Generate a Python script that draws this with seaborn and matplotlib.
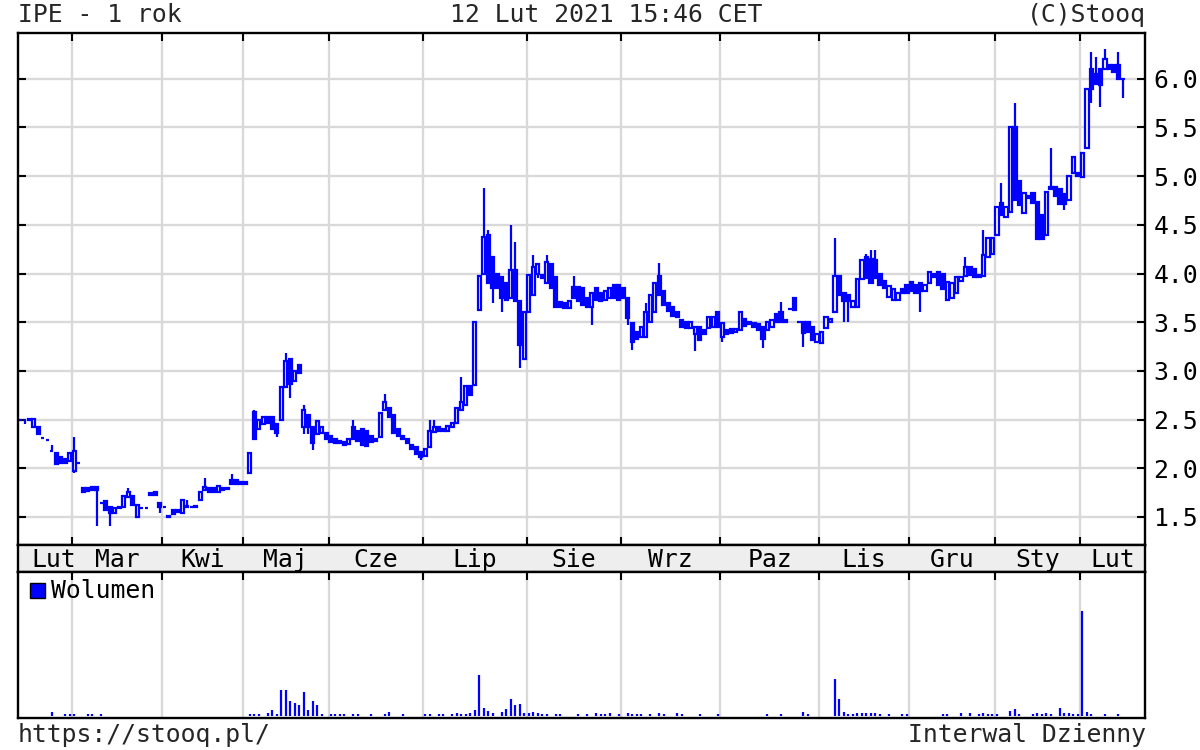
import numpy as np
import pandas as pd
import seaborn as sns
import matplotlib.pyplot as plt
from matplotlib.patches import Rectangle

# Daily candles, index 0 = 12 Feb 2020 ... 245 = 12 Feb 2021
opens = [2.50, 2.50, 2.51, 2.42, 2.42, 2.31, 2.29, 2.18, 2.16, 2.12,
         2.10, 2.07, 1.97, 2.05, 1.80, 1.80, 1.81, 1.81, 1.64, 1.66,
         1.60, 1.54, 1.59, 1.60, 1.70, 1.72, 1.50, 1.59, 1.59, 1.73,
         1.76, 1.64, 1.60, 1.50, 1.57, 1.55, 1.54, 1.60, 1.60, 1.61,
         1.67, 1.78, 1.80, 1.80, 1.76, 1.80, 1.79, 1.88, 1.88, 1.86,
         1.84, 1.95, 2.58, 2.40, 2.45, 2.53, 2.53, 2.45, 2.50, 2.83,
         3.12, 2.90, 3.06, 2.42, 2.55, 2.42, 2.35, 2.36, 2.36, 2.33,
         2.30, 2.28, 2.27, 2.25, 2.42, 2.38, 2.40, 2.38, 2.33, 2.28,
         2.32, 2.60, 2.62, 2.55, 2.40, 2.33, 2.30, 2.24, 2.22, 2.17,
         2.13, 2.22, 2.37, 2.42, 2.40, 2.38, 2.42, 2.46, 2.60, 2.65,
         2.84, 2.85, 3.63, 4.00, 4.40, 4.17, 4.00, 3.96, 3.90, 3.75,
         4.04, 3.72, 3.12, 3.60, 3.78, 4.00, 3.98, 3.90, 4.10, 3.96,
         3.71, 3.70, 3.65, 3.86, 3.86, 3.85, 3.75, 3.66, 3.85, 3.80,
         3.73, 3.75, 3.88, 3.88, 3.85, 3.75, 3.49, 3.40, 3.35, 3.35,
         3.50, 3.60, 3.97, 3.82, 3.70, 3.66, 3.60, 3.52, 3.50, 3.44,
         3.38, 3.45, 3.42, 3.44, 3.45, 3.60, 3.35, 3.42, 3.43, 3.40,
         3.42, 3.53, 3.50, 3.49, 3.48, 3.45, 3.42, 3.45, 3.58, 3.60,
         3.52, 3.64, 3.75, 3.50, 3.50, 3.50, 3.45, 3.30, 3.29, 3.44,
         3.50, 3.60, 3.97, 3.80, 3.78, 3.66, 3.66, 3.94, 4.17, 4.15,
         4.14, 4.00, 3.92, 3.76, 3.73, 3.73, 3.84, 3.88, 3.91, 3.88,
         3.90, 3.82, 3.90, 4.00, 4.02, 4.00, 3.73, 3.75, 3.80, 3.92,
         3.97, 4.07, 4.05, 3.98, 3.97, 4.17, 4.20, 4.40, 4.72, 4.58,
         4.63, 5.50, 4.95, 4.62, 4.80, 4.83, 4.73, 4.60, 4.40, 4.89,
         4.89, 4.87, 4.82, 4.75, 5.03, 5.03, 4.99, 5.29, 6.10, 6.05,
         6.10, 6.10, 6.14, 6.14, 6.14, 6.00]
closes = [2.50, 2.50, 2.50, 2.51, 2.35, 2.31, 2.29, 2.18, 2.04, 2.05,
          2.05, 2.16, 2.18, 2.05, 1.76, 1.77, 1.78, 1.78, 1.64, 1.57,
          1.54, 1.59, 1.60, 1.72, 1.76, 1.62, 1.62, 1.59, 1.59, 1.75,
          1.73, 1.60, 1.60, 1.51, 1.53, 1.57, 1.67, 1.61, 1.60, 1.60,
          1.76, 1.81, 1.76, 1.76, 1.82, 1.78, 1.80, 1.84, 1.84, 1.84,
          1.86, 2.16, 2.30, 2.50, 2.53, 2.47, 2.40, 2.36, 2.83, 3.10,
          2.87, 3.00, 2.98, 2.60, 2.42, 2.26, 2.49, 2.42, 2.30, 2.27,
          2.26, 2.26, 2.24, 2.30, 2.30, 2.28, 2.24, 2.23, 2.27, 2.30,
          2.57, 2.68, 2.53, 2.36, 2.33, 2.30, 2.26, 2.20, 2.15, 2.12,
          2.20, 2.38, 2.42, 2.38, 2.38, 2.43, 2.46, 2.62, 2.68, 2.84,
          2.75, 3.50, 3.97, 4.37, 3.90, 3.85, 3.85, 3.75, 3.73, 4.04,
          3.72, 3.27, 3.60, 3.98, 4.07, 4.10, 3.95, 4.12, 3.85, 3.66,
          3.66, 3.65, 3.72, 3.75, 3.72, 3.68, 3.66, 3.80, 3.73, 3.72,
          3.82, 3.85, 3.75, 3.73, 3.75, 3.54, 3.30, 3.33, 3.45, 3.60,
          3.78, 3.90, 3.78, 3.68, 3.62, 3.56, 3.55, 3.45, 3.44, 3.50,
          3.45, 3.32, 3.38, 3.55, 3.55, 3.45, 3.49, 3.38, 3.39, 3.43,
          3.60, 3.46, 3.48, 3.45, 3.42, 3.33, 3.50, 3.52, 3.50, 3.50,
          3.50, 3.64, 3.63, 3.50, 3.39, 3.40, 3.32, 3.38, 3.40, 3.55,
          3.53, 3.97, 3.78, 3.72, 3.72, 3.72, 3.94, 4.14, 3.95, 3.90,
          3.95, 3.88, 3.85, 3.87, 3.84, 3.80, 3.80, 3.80, 3.82, 3.80,
          3.82, 3.88, 4.02, 3.96, 3.88, 3.84, 3.91, 3.90, 3.96, 3.96,
          4.07, 3.98, 3.96, 3.96, 4.19, 4.36, 4.36, 4.68, 4.60, 4.68,
          5.50, 4.76, 4.70, 4.83, 4.78, 4.72, 4.35, 4.35, 4.84, 4.87,
          4.80, 4.71, 4.71, 5.00, 5.20, 5.00, 5.24, 5.90, 5.90, 5.95,
          5.94, 6.20, 6.10, 6.07, 6.00, 6.00]

# shadows reaching beyond the body
high_day = [7, 12, 24, 37, 41, 47, 52, 59, 63, 74, 81, 91, 92, 98, 103, 104, 109,
            110, 114, 117, 123, 139, 142, 169, 181, 188, 189, 190, 210, 214, 218,
            221, 229, 238, 239, 241, 244]
high_val = [2.24, 2.32, 1.80, 1.67, 1.90, 1.94, 2.60, 3.18, 2.65, 2.50, 2.76, 2.50,
            2.50, 2.94, 4.88, 4.45, 4.50, 4.32, 4.19, 4.19, 3.97, 3.70, 4.11, 3.71,
            4.36, 4.20, 4.24, 4.24, 4.17, 4.45, 4.93, 5.75, 5.29, 6.27, 6.22, 6.31,
            6.27]
low_day = [1, 12, 17, 20, 31, 57, 60, 63, 64, 65, 89, 105, 107, 111, 115, 127,
           135, 136, 150, 156, 165, 174, 183, 184, 200, 232, 238, 240, 245]
low_val = [2.45, 1.95, 1.41, 1.41, 1.54, 2.32, 2.72, 2.35, 2.35, 2.19, 2.09, 3.70,
           3.60, 3.03, 3.95, 3.47, 3.47, 3.21, 3.20, 3.30, 3.24, 3.25, 3.50, 3.50,
           3.60, 4.65, 5.75, 5.71, 5.80]

# volume (relative units)
vol_day = [7, 10, 11, 12, 15, 16, 18, 51, 52, 53, 55, 56, 57, 58, 59, 60, 61, 62,
           63, 64, 65, 66, 67, 69, 70, 71, 72, 74, 75, 78, 81, 82, 85, 90, 91, 93,
           94, 96, 97, 98, 99, 100, 101, 102, 103, 104, 105, 107, 108, 109, 110,
           111, 112, 113, 114, 115, 116, 117, 119, 120, 124, 126, 128, 129, 130,
           131, 133, 135, 136, 137, 138, 140, 142, 143, 146, 147, 151, 155, 166,
           169, 174, 175, 181, 182, 183, 184, 185, 186, 187, 188, 189, 190, 191,
           193, 196, 197, 205, 206, 209, 211, 213, 214, 215, 216, 217, 220, 221,
           222, 225, 226, 227, 228, 229, 231, 232, 233, 234, 235, 236, 237, 238,
           241, 244]
vol_val = [4, 2, 2, 2, 2, 2, 2, 2, 2, 2, 3, 6, 2, 26, 26, 15, 13, 11,
           24, 6, 15, 11, 2, 2, 2, 2, 2, 2, 2, 2, 2, 4, 2, 2, 2, 2,
           2, 2, 3, 2, 2, 3, 6, 41, 8, 5, 3, 4, 7, 17, 11,
           12, 3, 3, 4, 3, 2, 2, 2, 2, 2, 2, 3, 2, 2,
           3, 2, 3, 2, 2, 2, 2, 3, 2, 3, 2, 2, 2, 2,
           2, 4, 2, 37, 17, 4, 2, 2, 3, 3, 3, 3, 3, 2,
           2, 2, 2, 2, 2, 3, 3, 2, 3, 2, 2, 2, 5, 7,
           2, 2, 3, 2, 3, 2, 8, 3, 3, 2, 2, 105, 4, 2,
           2, 2]

month_starts = [12, 32, 50, 69, 90, 113, 134, 156, 178, 198, 217, 236]
month_names = ['Lut', 'Mar', 'Kwi', 'Maj', 'Cze', 'Lip', 'Sie', 'Wrz', 'Paz',
               'Lis', 'Gru', 'Sty', 'Lut']
price_ticks = [1.5, 2.0, 2.5, 3.0, 3.5, 4.0, 4.5, 5.0, 5.5, 6.0]

BLUE = '#0000ff'
GRID = '#d9d9d9'
FS = 17.8

sns.set_theme(style='white')
plt.rcParams['font.family'] = ['DejaVu Sans Mono', 'DejaVu Sans']

df = pd.DataFrame({'open': opens, 'close': closes})
df['body_lo'] = df[['open', 'close']].min(axis=1)
df['body_hi'] = df[['open', 'close']].max(axis=1)
df['high'] = df['body_hi']
df['low'] = df['body_lo']
df.loc[high_day, 'high'] = high_val
df.loc[low_day, 'low'] = low_val
up = (df['close'] >= df['open']).to_numpy()

xmin, xmax = -0.5, 249.9
W, H = 1200, 750
fig = plt.figure(figsize=(12, 7.5), dpi=100)
fig.patch.set_facecolor('white')
L, Wd = 18 / W, 1127 / W
ax = fig.add_axes([L, (H - 545) / H, Wd, 512 / H])
axs = fig.add_axes([L, (H - 572) / H, Wd, 27 / H])
axv = fig.add_axes([L, (H - 718) / H, Wd, 146 / H])

grid_x = [m - 0.5 for m in month_starts]

# price panel
ax.vlines(df.index, df['low'], df['high'], color=BLUE, lw=1.6, zorder=3)
ax.bar(df.index, df['body_hi'] - df['body_lo'], bottom=df['body_lo'],
       width=0.72, color=np.where(up, 'white', BLUE), edgecolor=BLUE,
       linewidth=1.6, zorder=4)
ax.set_xlim(xmin, xmax)
ax.set_ylim(1.212, 6.47)
ax.set_yticks(price_ticks)
ax.set_yticklabels([f'{t:.1f}' for t in price_ticks], fontsize=FS, color='black')
ax.set_xticks(grid_x)
ax.set_xticklabels([])
ax.yaxis.tick_right()
ax.tick_params(axis='y', direction='in', left=True, right=True, labelleft=False,
               labelright=True, length=6, width=1.5, color='black', pad=6)
ax.tick_params(axis='x', direction='in', top=True, bottom=True, length=6, width=1.5,
               color='black')
ax.grid(True, color=GRID, lw=1.7, zorder=0)
ax.set_axisbelow(True)

# month label strip
axs.set_facecolor('#eeeeee')
axs.set_xlim(xmin, xmax)
axs.set_ylim(0, 1)
axs.set_xticks([])
axs.set_yticks([])
edges = grid_x + [xmax]
label_pos = [grid_x[0] - 4] + [(a + b) / 2 for a, b in zip(edges[:-1], edges[1:])]
for pos, name in zip(label_pos, month_names):
    axs.text(pos, 0.45, name, ha='center', va='center', fontsize=FS, color='black')

# volume panel
axv.vlines(vol_day, 0, vol_val, color=BLUE, lw=1.6, zorder=3)
axv.set_xlim(xmin, xmax)
axv.set_ylim(-2, 144)
axv.set_xticks(grid_x)
axv.set_xticklabels([])
axv.set_yticks([])
axv.tick_params(axis='x', direction='in', top=True, bottom=False, length=6, width=1.5,
                color='black')
axv.grid(True, axis='x', color=GRID, lw=1.7, zorder=0)
axv.set_axisbelow(True)
axv.add_patch(Rectangle((12 / 1127, 0.822), 15 / 1127, 15 / 146, transform=axv.transAxes,
                        facecolor=BLUE, edgecolor='black', lw=1, zorder=5))
axv.text(33 / 1127, 0.87, 'Wolumen', transform=axv.transAxes, ha='left', va='center',
         fontsize=FS, color='black')

for a in (ax, axs, axv):
    for s in a.spines.values():
        s.set_visible(True)
        s.set_color('black')
        s.set_linewidth(1.7)

fig.text(L, 1 - 15 / H, 'IPE - 1 rok', ha='left', va='center', fontsize=FS)
fig.text(606 / W, 1 - 15 / H, '12 Lut 2021 15:46 CET', ha='center', va='center', fontsize=FS)
fig.text(1146 / W, 1 - 15 / H, '(C)Stooq', ha='right', va='center', fontsize=FS)
fig.text(L, 1 - 735 / H, 'https://stooq.pl/', ha='left', va='center', fontsize=FS)
fig.text(1146 / W, 1 - 735 / H, 'Interwal Dzienny', ha='right', va='center', fontsize=FS)

fig.savefig('out.png', dpi=100, facecolor='white')
plt.close()
